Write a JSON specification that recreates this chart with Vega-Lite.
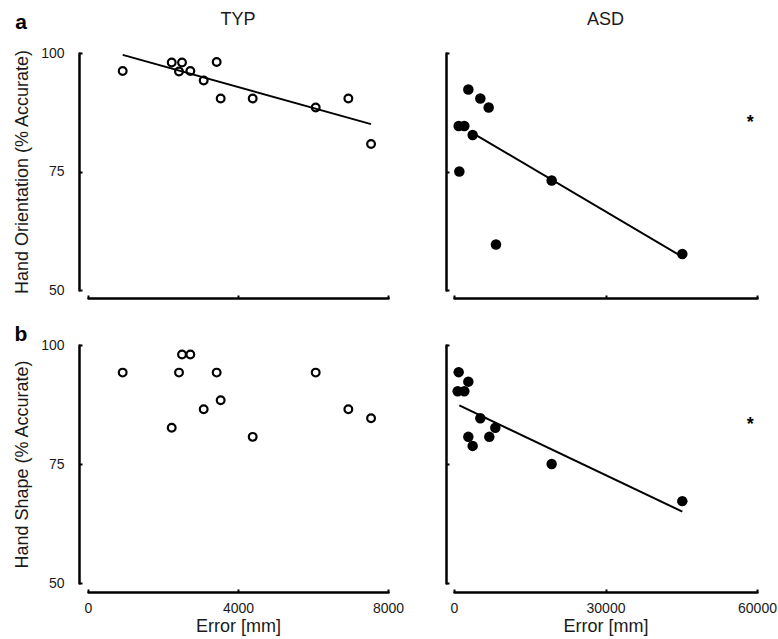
{
  "$schema": "https://vega.github.io/schema/vega-lite/v6.json",
  "autosize": {"type": "pad"},
  "padding": {"left": 13, "top": 10, "right": 5, "bottom": 1},
  "background": "white",
  "config": {
    "view": {"stroke": null},
    "font": "Liberation Sans",
    "axis": {
      "grid": false,
      "domainColor": "black",
      "domainWidth": 2.5,
      "domainCap": "round",
      "tickColor": "black",
      "tickWidth": 2,
      "tickSize": -3,
      "labelFontSize": 14,
      "labelColor": "#1a1a1a",
      "labelFlush": false,
      "labelOverlap": false,
      "format": "d",
      "titleFontSize": 18,
      "titleFontWeight": "normal",
      "titleColor": "#1a1a1a"
    }
  },
  "datasets": {
    "pts": [
      {"group": "TYP", "measure": "Orientation", "error": 925, "acc": 96.2},
      {"group": "TYP", "measure": "Orientation", "error": 2232, "acc": 98.0},
      {"group": "TYP", "measure": "Orientation", "error": 2507, "acc": 98.0},
      {"group": "TYP", "measure": "Orientation", "error": 2427, "acc": 96.1},
      {"group": "TYP", "measure": "Orientation", "error": 2729, "acc": 96.2},
      {"group": "TYP", "measure": "Orientation", "error": 3085, "acc": 94.2},
      {"group": "TYP", "measure": "Orientation", "error": 3431, "acc": 98.1},
      {"group": "TYP", "measure": "Orientation", "error": 3538, "acc": 90.4},
      {"group": "TYP", "measure": "Orientation", "error": 4392, "acc": 90.4},
      {"group": "TYP", "measure": "Orientation", "error": 6072, "acc": 88.5},
      {"group": "TYP", "measure": "Orientation", "error": 6943, "acc": 90.4},
      {"group": "TYP", "measure": "Orientation", "error": 7548, "acc": 80.8},
      {"group": "ASD", "measure": "Orientation", "error": 2838, "acc": 92.3},
      {"group": "ASD", "measure": "Orientation", "error": 5214, "acc": 90.4},
      {"group": "ASD", "measure": "Orientation", "error": 6864, "acc": 88.5},
      {"group": "ASD", "measure": "Orientation", "error": 924, "acc": 84.6},
      {"group": "ASD", "measure": "Orientation", "error": 2046, "acc": 84.6},
      {"group": "ASD", "measure": "Orientation", "error": 3696, "acc": 82.7},
      {"group": "ASD", "measure": "Orientation", "error": 1056, "acc": 75.0},
      {"group": "ASD", "measure": "Orientation", "error": 19340, "acc": 73.1},
      {"group": "ASD", "measure": "Orientation", "error": 8316, "acc": 59.6},
      {"group": "ASD", "measure": "Orientation", "error": 45210, "acc": 57.6},
      {"group": "TYP", "measure": "Shape", "error": 925, "acc": 94.2},
      {"group": "TYP", "measure": "Shape", "error": 2507, "acc": 98.0},
      {"group": "TYP", "measure": "Shape", "error": 2729, "acc": 98.0},
      {"group": "TYP", "measure": "Shape", "error": 2427, "acc": 94.2},
      {"group": "TYP", "measure": "Shape", "error": 3431, "acc": 94.2},
      {"group": "TYP", "measure": "Shape", "error": 2232, "acc": 82.6},
      {"group": "TYP", "measure": "Shape", "error": 3085, "acc": 86.5},
      {"group": "TYP", "measure": "Shape", "error": 3538, "acc": 88.4},
      {"group": "TYP", "measure": "Shape", "error": 4392, "acc": 80.7},
      {"group": "TYP", "measure": "Shape", "error": 6072, "acc": 94.2},
      {"group": "TYP", "measure": "Shape", "error": 6943, "acc": 86.5},
      {"group": "TYP", "measure": "Shape", "error": 7548, "acc": 84.6},
      {"group": "ASD", "measure": "Shape", "error": 924, "acc": 94.3},
      {"group": "ASD", "measure": "Shape", "error": 2838, "acc": 92.3},
      {"group": "ASD", "measure": "Shape", "error": 726, "acc": 90.3},
      {"group": "ASD", "measure": "Shape", "error": 2046, "acc": 90.3},
      {"group": "ASD", "measure": "Shape", "error": 5214, "acc": 84.6},
      {"group": "ASD", "measure": "Shape", "error": 8184, "acc": 82.6},
      {"group": "ASD", "measure": "Shape", "error": 6996, "acc": 80.7},
      {"group": "ASD", "measure": "Shape", "error": 2838, "acc": 80.7},
      {"group": "ASD", "measure": "Shape", "error": 3696, "acc": 78.8},
      {"group": "ASD", "measure": "Shape", "error": 19340, "acc": 75.0},
      {"group": "ASD", "measure": "Shape", "error": 45210, "acc": 67.2}
    ],
    "fits": [
      {"panel": "TYP-Orientation", "error": 925, "acc": 99.6},
      {"panel": "TYP-Orientation", "error": 7548, "acc": 85.0},
      {"panel": "ASD-Orientation", "error": 3696, "acc": 83.1},
      {"panel": "ASD-Orientation", "error": 45210, "acc": 57.0},
      {"panel": "ASD-Shape", "error": 1056, "acc": 87.3},
      {"panel": "ASD-Shape", "error": 45210, "acc": 65.0}
    ],
    "letters": [
      {"panel": "TYP-Orientation", "text": "a", "error": -1787, "acc": 106.3},
      {"panel": "TYP-Shape", "text": "b", "error": -1787, "acc": 102.1}
    ],
    "heads": [
      {"panel": "TYP-Orientation", "text": "TYP", "error": 4000, "acc": 107.0},
      {"panel": "ASD-Orientation", "text": "ASD", "error": 30000, "acc": 107.0}
    ],
    "stars": [
      {"panel": "ASD-Orientation", "text": "*", "error": 58670, "acc": 86.6},
      {"panel": "ASD-Shape", "text": "*", "error": 58670, "acc": 84.5}
    ]
  },
  "columns": 2,
  "spacing": {"row": 55, "column": 66},
  "bounds": "flush",
  "concat": [
    {
      "width": 300, "height": 237,
      "layer": [
        {
          "data": {"name": "pts"},
          "transform": [{"filter": "datum.group === 'TYP' && datum.measure === 'Orientation'"}],
          "mark": {"type": "point", "shape": "circle", "filled": false, "size": 60, "strokeWidth": 2.2, "color": "black", "opacity": 1},
          "encoding": {
            "x": {"field": "error", "type": "quantitative", "scale": {"domain": [0, 8000], "nice": false},
                  "axis": {"values": [0, 4000, 8000], "labels": false, "title": null, "offset": 8}},
            "y": {"field": "acc", "type": "quantitative", "scale": {"domain": [50, 100], "nice": false, "zero": false},
                  "axis": {"values": [50, 75, 100], "title": "Hand Orientation (% Accurate)", "offset": 9, "labelPadding": 18, "titlePadding": 9}}
          }
        },
        {
          "data": {"name": "fits"},
          "transform": [{"filter": "datum.panel === 'TYP-Orientation'"}],
          "mark": {"type": "line", "color": "black", "strokeWidth": 2},
          "encoding": {
            "x": {"field": "error", "type": "quantitative"},
            "y": {"field": "acc", "type": "quantitative"}
          }
        },
        {
          "data": {"name": "letters"},
          "transform": [{"filter": "datum.panel === 'TYP-Orientation'"}],
          "mark": {"type": "text", "fontSize": 21, "fontWeight": "bold", "color": "black", "baseline": "middle", "align": "center"},
          "encoding": {
            "x": {"field": "error", "type": "quantitative"},
            "y": {"field": "acc", "type": "quantitative"},
            "text": {"field": "text"}
          }
        },
        {
          "data": {"name": "heads"},
          "transform": [{"filter": "datum.panel === 'TYP-Orientation'"}],
          "mark": {"type": "text", "fontSize": 18, "color": "#1a1a1a", "baseline": "middle", "align": "center"},
          "encoding": {
            "x": {"field": "error", "type": "quantitative"},
            "y": {"field": "acc", "type": "quantitative"},
            "text": {"field": "text"}
          }
        }
      ]
    },
    {
      "width": 303, "height": 237,
      "layer": [
        {
          "data": {"name": "pts"},
          "transform": [{"filter": "datum.group === 'ASD' && datum.measure === 'Orientation'"}],
          "mark": {"type": "point", "shape": "circle", "filled": true, "size": 110, "color": "black", "opacity": 1},
          "encoding": {
            "x": {"field": "error", "type": "quantitative", "scale": {"domain": [0, 60000], "nice": false},
                  "axis": {"values": [0, 30000, 60000], "labels": false, "title": null, "offset": 8}},
            "y": {"field": "acc", "type": "quantitative", "scale": {"domain": [50, 100], "nice": false, "zero": false},
                  "axis": {"values": [50, 75, 100], "labels": false, "title": null, "offset": 8}}
          }
        },
        {
          "data": {"name": "fits"},
          "transform": [{"filter": "datum.panel === 'ASD-Orientation'"}],
          "mark": {"type": "line", "color": "black", "strokeWidth": 2},
          "encoding": {
            "x": {"field": "error", "type": "quantitative"},
            "y": {"field": "acc", "type": "quantitative"}
          }
        },
        {
          "data": {"name": "heads"},
          "transform": [{"filter": "datum.panel === 'ASD-Orientation'"}],
          "mark": {"type": "text", "fontSize": 18, "color": "#1a1a1a", "baseline": "middle", "align": "center"},
          "encoding": {
            "x": {"field": "error", "type": "quantitative"},
            "y": {"field": "acc", "type": "quantitative"},
            "text": {"field": "text"}
          }
        },
        {
          "data": {"name": "stars"},
          "transform": [{"filter": "datum.panel === 'ASD-Orientation'"}],
          "mark": {"type": "text", "fontSize": 18, "fontWeight": "bold", "color": "black", "baseline": "alphabetic", "align": "center", "dy": 11},
          "encoding": {
            "x": {"field": "error", "type": "quantitative"},
            "y": {"field": "acc", "type": "quantitative"},
            "text": {"field": "text"}
          }
        }
      ]
    },
    {
      "width": 300, "height": 238,
      "layer": [
        {
          "data": {"name": "pts"},
          "transform": [{"filter": "datum.group === 'TYP' && datum.measure === 'Shape'"}],
          "mark": {"type": "point", "shape": "circle", "filled": false, "size": 60, "strokeWidth": 2.2, "color": "black", "opacity": 1},
          "encoding": {
            "x": {"field": "error", "type": "quantitative", "scale": {"domain": [0, 8000], "nice": false},
                  "axis": {"values": [0, 4000, 8000], "title": "Error [mm]", "offset": 9, "labelPadding": 12, "titlePadding": 2}},
            "y": {"field": "acc", "type": "quantitative", "scale": {"domain": [50, 100], "nice": false, "zero": false},
                  "axis": {"values": [50, 75, 100], "title": "Hand Shape (% Accurate)", "offset": 9, "labelPadding": 18, "titlePadding": 9}}
          }
        },
        {
          "data": {"name": "letters"},
          "transform": [{"filter": "datum.panel === 'TYP-Shape'"}],
          "mark": {"type": "text", "fontSize": 21, "fontWeight": "bold", "color": "black", "baseline": "middle", "align": "center"},
          "encoding": {
            "x": {"field": "error", "type": "quantitative"},
            "y": {"field": "acc", "type": "quantitative"},
            "text": {"field": "text"}
          }
        }
      ]
    },
    {
      "width": 303, "height": 238,
      "layer": [
        {
          "data": {"name": "pts"},
          "transform": [{"filter": "datum.group === 'ASD' && datum.measure === 'Shape'"}],
          "mark": {"type": "point", "shape": "circle", "filled": true, "size": 110, "color": "black", "opacity": 1},
          "encoding": {
            "x": {"field": "error", "type": "quantitative", "scale": {"domain": [0, 60000], "nice": false},
                  "axis": {"values": [0, 30000, 60000], "title": "Error [mm]", "offset": 9, "labelPadding": 12, "titlePadding": 2}},
            "y": {"field": "acc", "type": "quantitative", "scale": {"domain": [50, 100], "nice": false, "zero": false},
                  "axis": {"values": [50, 75, 100], "labels": false, "title": null, "offset": 8}}
          }
        },
        {
          "data": {"name": "fits"},
          "transform": [{"filter": "datum.panel === 'ASD-Shape'"}],
          "mark": {"type": "line", "color": "black", "strokeWidth": 2},
          "encoding": {
            "x": {"field": "error", "type": "quantitative"},
            "y": {"field": "acc", "type": "quantitative"}
          }
        },
        {
          "data": {"name": "stars"},
          "transform": [{"filter": "datum.panel === 'ASD-Shape'"}],
          "mark": {"type": "text", "fontSize": 18, "fontWeight": "bold", "color": "black", "baseline": "alphabetic", "align": "center", "dy": 11},
          "encoding": {
            "x": {"field": "error", "type": "quantitative"},
            "y": {"field": "acc", "type": "quantitative"},
            "text": {"field": "text"}
          }
        }
      ]
    }
  ]
}
